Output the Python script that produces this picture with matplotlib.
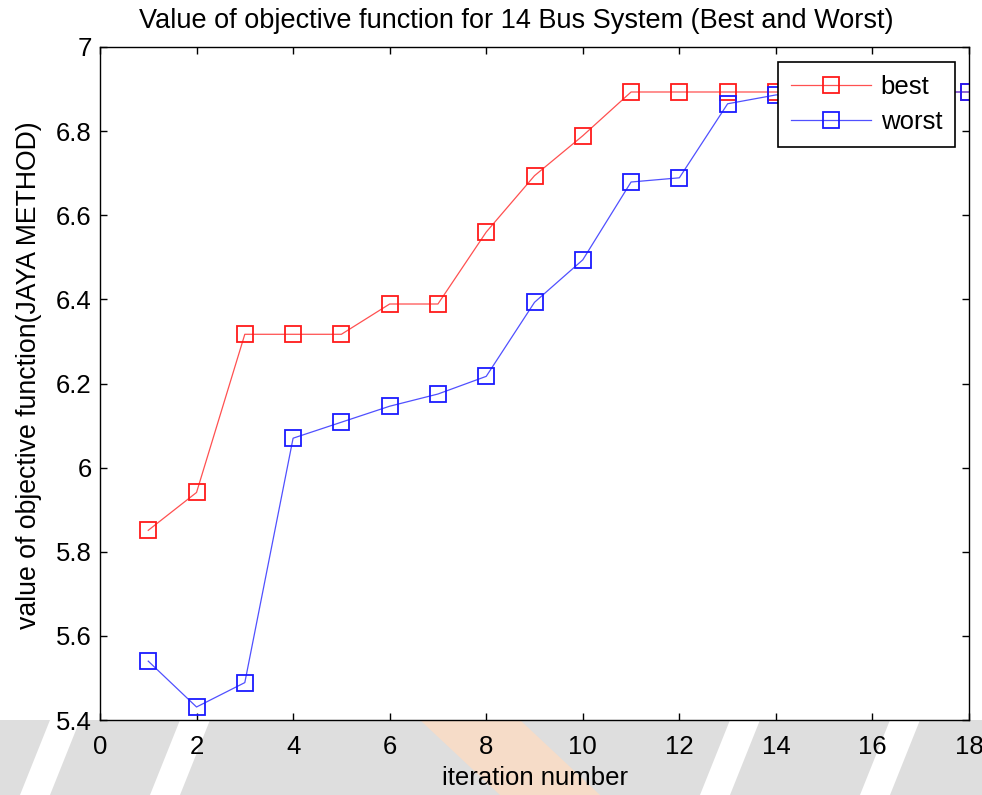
import matplotlib
matplotlib.use("Agg")
import matplotlib.pyplot as plt
from matplotlib.patches import Rectangle, Polygon

iterations = list(range(1, 19))
best = [5.851, 5.941, 6.317, 6.317, 6.317, 6.389, 6.389, 6.560, 6.694, 6.789,
        6.893, 6.893, 6.893, 6.893, 6.893, 6.893, 6.893, 6.893]
worst = [5.540, 5.431, 5.489, 6.070, 6.108, 6.146, 6.175, 6.217, 6.393, 6.494,
         6.679, 6.689, 6.865, 6.886, 6.890, 6.893, 6.893, 6.893]
xticks = [0, 2, 4, 6, 8, 10, 12, 14, 16, 18]
yticks = [5.4, 5.6, 5.8, 6.0, 6.2, 6.4, 6.6, 6.8, 7.0]
yticklabels = ["5.4", "5.6", "5.8", "6", "6.2", "6.4", "6.6", "6.8", "7"]

plt.rcParams['font.family'] = ['Liberation Sans', 'DejaVu Sans']

fig = plt.figure(figsize=(9.82, 7.95), dpi=100)

# faint watermark-like background below the axes
W, H = 982.0, 795.0
fig.patches.append(Rectangle((0, 0), 1, 75 / H, transform=fig.transFigure,
                             facecolor='#dedede', edgecolor='none', zorder=-10))
for x0 in [20, 150, 700, 860]:
    fig.patches.append(Polygon([(x0 / W, 0), ((x0 + 30) / W, 0),
                                ((x0 + 60) / W, 75 / H), ((x0 + 30) / W, 75 / H)],
                               closed=True, transform=fig.transFigure,
                               facecolor='white', edgecolor='none', zorder=-9))
fig.patches.append(Polygon([(420 / W, 75 / H), (520 / W, 75 / H), (600 / W, 0),
                            (500 / W, 0)], closed=True, transform=fig.transFigure,
                           facecolor='#f6dcc8', edgecolor='none', zorder=-9))

ax = fig.add_axes([0.1018, 0.0943, 0.885, 0.8466])

ax.plot(iterations, best, color='#ff5050', lw=0.9, marker='s', ms=11.5,
        mfc='none', mec='#ff1a1a', mew=1.3, label='best')
ax.plot(iterations, worst, color='#5050ff', lw=0.9, marker='s', ms=11.5,
        mfc='none', mec='#1a1aff', mew=1.3, label='worst')

ax.set_xlim(0, 18)
ax.set_ylim(5.4, 7.0)
ax.set_xticks(xticks)
ax.set_yticks(yticks)
ax.set_yticklabels(yticklabels)
ax.tick_params(direction='in', top=True, right=True, labelsize=18.5, length=5, width=1)
ax.tick_params(axis='x', pad=11)
ax.tick_params(axis='y', pad=6)
for s in ax.spines.values():
    s.set_linewidth(1.0)

ax.set_title('Value of objective function for 14 Bus System (Best and Worst)',
             fontsize=19.5, pad=14, x=0.479)
ax.set_xlabel('iteration number', fontsize=18.5, labelpad=5)
ax.set_ylabel('value of objective function(JAYA METHOD)', fontsize=19.2)
ax.yaxis.set_label_coords(-0.067, 0.513)

leg = ax.legend(loc='upper right', bbox_to_anchor=(0.984, 0.978), fontsize=18.5,
                frameon=True, fancybox=False, edgecolor='black', framealpha=1,
                borderpad=0.5, handlelength=3.1, handletextpad=0.4,
                labelspacing=0.45, borderaxespad=0)
leg.get_frame().set_linewidth(1.2)

fig.savefig('out.png', dpi=100)
